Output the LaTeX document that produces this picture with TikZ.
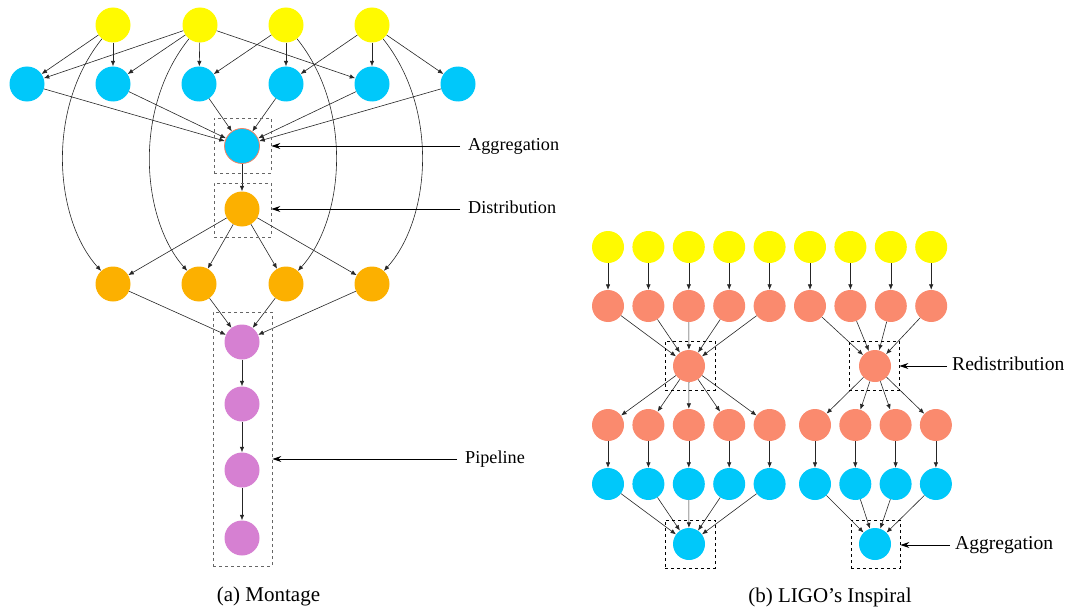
\documentclass[tikz,border=0pt]{standalone}
\usepackage{fontspec}
\setmainfont{Liberation Serif}
\usetikzlibrary{arrows.meta}
\definecolor{cyel}{RGB}{255,250,0}
\definecolor{cblu}{RGB}{0,200,250}
\definecolor{corg}{RGB}{252,176,0}
\definecolor{cpur}{RGB}{214,128,210}
\definecolor{csal}{RGB}{250,138,110}
\definecolor{cbrd}{RGB}{240,130,100}
\tikzset{
  mn/.style={circle, minimum size=35pt, inner sep=0pt},
  ln/.style={circle, minimum size=32pt, inner sep=0pt},
  arr/.style={-{Latex[length=5.5pt,width=4.5pt]}, line width=0.6pt, draw=black!85},
  mbox/.style={draw=black!60, dashed, line width=0.8pt, inner sep=0pt},
  lbox/.style={draw=black, dashed, line width=0.8pt, inner sep=0pt},
  larr/.style={-{Stealth[length=9pt,width=6pt]}, line width=1pt},
  mlbl/.style={font=\fontsize{18.2}{20}\selectfont, text height=12.5pt, text depth=4pt, inner sep=0pt, anchor=west},
  llbl/.style={font=\fontsize{19.6}{22}\selectfont, text height=13.5pt, text depth=4.3pt, inner sep=0pt, anchor=west},
  capt/.style={font=\fontsize{21}{24}\selectfont, anchor=base, inner sep=0pt}
}
\begin{document}
\begin{tikzpicture}[x=1pt,y=-1pt]
\useasboundingbox (0,0) rectangle (1066,610);
% ---------------- Montage ----------------
\foreach \i/\x in {1/113,2/200,3/286,4/372}
  \node[mn, fill=cyel] (y\i) at (\x,25) {};
\foreach \i/\x in {1/27,2/113,3/199,4/286,5/372,6/458}
  \node[mn, fill=cblu] (b\i) at (\x,84) {};
\node[mn, fill=cblu, draw=cbrd, line width=0.8pt] (ag) at (242,146) {};
\node[mn, fill=corg] (ds) at (242,209) {};
\foreach \i/\x in {1/113,2/199,3/286,4/372}
  \node[mn, fill=corg] (o\i) at (\x,284) {};
\foreach \i/\y in {1/342,2/404,3/470,4/538}
  \node[mn, fill=cpur] (p\i) at (242,\y) {};

\foreach \a/\b in {y1/b1,y1/b2,y2/b1,y2/b2,y2/b3,y2/b5,y3/b3,y3/b4,y4/b4,y4/b5,y4/b6}
  \draw[arr] (\a) -- (\b);
\draw[arr] (y1) .. controls (45,110) and (55,220) .. (o1);
\draw[arr] (y2) .. controls (132,110) and (142,220) .. (o2);
\draw[arr] (y3) .. controls (354,110) and (344,220) .. (o3);
\draw[arr] (y4) .. controls (440,110) and (430,220) .. (o4);
\foreach \i in {1,...,6} \draw[arr] (b\i) -- (ag);
\draw[arr] (ag) -- (ds);
\foreach \i in {1,...,4} \draw[arr] (ds) -- (o\i);
\foreach \i in {1,...,4} \draw[arr] (o\i) -- (p1);
\draw[arr] (p1) -- (p2);
\draw[arr] (p2) -- (p3);
\draw[arr] (p3) -- (p4);

\node[mbox, minimum width=57pt, minimum height=55pt] (bxag) at (242.5,145.5) {};
\node[mbox, minimum width=57pt, minimum height=54pt] (bxds) at (242.5,210) {};
\node[mbox, minimum width=59pt, minimum height=254pt] (bxpp) at (242.5,439) {};

\node[mlbl] (lag) at (468,146) {Aggregation};
\node[mlbl] (lds) at (468,209) {Distribution};
\node[mlbl] (lpp) at (465,459) {Pipeline};
\draw[larr] ([xshift=-8pt]lag.west) -- (lag.west -| bxag.east);
\draw[larr] ([xshift=-8pt]lds.west) -- (lds.west -| bxds.east);
\draw[larr] ([xshift=-8pt]lpp.west) -- (lpp.west -| bxpp.east);

\node[capt] (ca) at (268.5,601) {(a) Montage};

% ---------------- LIGO ----------------
\foreach \i in {1,...,9} {
  \pgfmathsetmacro\xx{608+40.4*(\i-1)}
  \node[ln, fill=cyel] (ly\i) at (\xx,247) {};
  \node[ln, fill=csal] (ls\i) at (\xx,306) {};
  \draw[arr] (ly\i) -- (ls\i);
}
\node[ln, fill=csal] (r1) at (689,366) {};
\node[ln, fill=csal] (r2) at (875,366) {};
\foreach \i in {1,...,5} \draw[arr] (ls\i) -- (r1);
\foreach \i in {6,...,9} \draw[arr] (ls\i) -- (r2);
\foreach \i/\x in {1/608,2/648.4,3/688.8,4/729.2,5/769.6,6/815,7/855.3,8/895.6,9/935.9} {
  \node[ln, fill=csal] (lt\i) at (\x,425) {};
  \node[ln, fill=cblu] (lb\i) at (\x,484) {};
  \draw[arr] (lt\i) -- (lb\i);
}
\foreach \i in {1,...,5} \draw[arr] (r1) -- (lt\i);
\foreach \i in {6,...,9} \draw[arr] (r2) -- (lt\i);
\node[ln, fill=cblu] (a1) at (689,544) {};
\node[ln, fill=cblu] (a2) at (875,544) {};
\foreach \i in {1,...,5} \draw[arr] (lb\i) -- (a1);
\foreach \i in {6,...,9} \draw[arr] (lb\i) -- (a2);

\node[lbox, minimum width=50pt, minimum height=49pt] (bxr1) at (690,365.5) {};
\node[lbox, minimum width=50pt, minimum height=49pt] (bxr2) at (874,365.5) {};
\node[lbox, minimum width=50pt, minimum height=48pt] (bxa1) at (690,544) {};
\node[lbox, minimum width=49pt, minimum height=48pt] (bxa2) at (875.5,544) {};

\node[llbl] (lrd) at (952,366) {Redistribution};
\node[llbl] (lla) at (955,545) {Aggregation};
\draw[larr] ([xshift=-5pt]lrd.west) -- (lrd.west -| bxr2.east);
\draw[larr] ([xshift=-5pt]lla.west) -- (lla.west -| bxa2.east);

\node[capt] (cb) at (830,602) {(b) LIGO’s Inspiral};
\end{tikzpicture}
\end{document}
